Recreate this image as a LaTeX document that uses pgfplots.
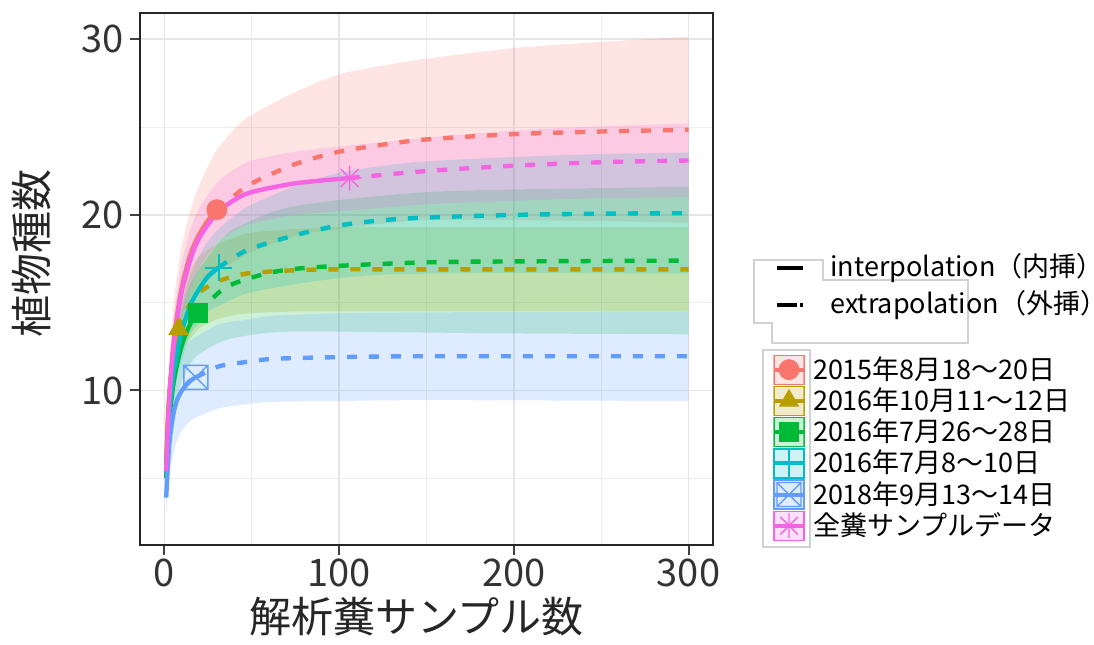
\documentclass[border=0pt]{standalone}
\usepackage{fontspec}
\setmainfont{Noto Sans CJK JP}
\usepackage{pgfplots}
\usepackage{pgfplotstable}
\pgfplotsset{compat=1.18}
\usepgfplotslibrary{fillbetween}

\definecolor{cRed}{HTML}{F8766D}
\definecolor{cOli}{HTML}{B79F00}
\definecolor{cGrn}{HTML}{00BA38}
\definecolor{cTea}{HTML}{00BFC4}
\definecolor{cBlu}{HTML}{619CFF}
\definecolor{cMag}{HTML}{F564E3}

\pgfdeclareplotmark{boxx}{%
  \pgfpathrectangle{\pgfpoint{-\pgfplotmarksize}{-\pgfplotmarksize}}{\pgfpoint{2\pgfplotmarksize}{2\pgfplotmarksize}}%
  \pgfpathmoveto{\pgfpoint{-\pgfplotmarksize}{-\pgfplotmarksize}}\pgfpathlineto{\pgfpoint{\pgfplotmarksize}{\pgfplotmarksize}}%
  \pgfpathmoveto{\pgfpoint{-\pgfplotmarksize}{\pgfplotmarksize}}\pgfpathlineto{\pgfpoint{\pgfplotmarksize}{-\pgfplotmarksize}}%
  \pgfusepathqstroke}
\pgfdeclareplotmark{star8}{%
  \pgfpathmoveto{\pgfpoint{-\pgfplotmarksize}{0pt}}\pgfpathlineto{\pgfpoint{\pgfplotmarksize}{0pt}}%
  \pgfpathmoveto{\pgfpoint{0pt}{-\pgfplotmarksize}}\pgfpathlineto{\pgfpoint{0pt}{\pgfplotmarksize}}%
  \pgfpathmoveto{\pgfpoint{-.7071\pgfplotmarksize}{-.7071\pgfplotmarksize}}\pgfpathlineto{\pgfpoint{.7071\pgfplotmarksize}{.7071\pgfplotmarksize}}%
  \pgfpathmoveto{\pgfpoint{-.7071\pgfplotmarksize}{.7071\pgfplotmarksize}}\pgfpathlineto{\pgfpoint{.7071\pgfplotmarksize}{-.7071\pgfplotmarksize}}%
  \pgfusepathqstroke}

\pgfplotsset{
  keybox/.style={legend image code/.code={
    \fill[#1, fill opacity=0.2] (0pt,-7.25pt) rectangle (15pt,7.25pt);
    \draw[#1, draw opacity=0.6, line width=0.6pt] (0pt,-7.25pt) rectangle (15pt,7.25pt);
    \draw[#1, line width=2pt, solid] (0pt,0pt) -- (15pt,0pt);
    \draw plot coordinates {(7.5pt,0pt)};
  }},
  sline/.style={line width=2.2pt, smooth, forget plot},
  dline/.style={line width=2.2pt, smooth, forget plot, dash pattern=on 5pt off 6pt},
}

% x = samples, y = estimate, lo/hi = confidence band
\pgfplotstableread{
x y lo hi
1 5.5 4.2 6.8
2 8.2 6.5 9.9
3 10.0 8.0 12.0
5 12.5 10.3 14.7
7 14.1 11.8 16.4
10 15.9 13.5 18.3
15 17.8 15.3 20.3
20 18.9 16.1 21.7
25 19.7 16.6 22.8
30 20.3 16.9 23.7
40 21.1 17.3 24.9
50 21.8 17.9 25.7
75 22.9 18.8 27.0
100 23.6 19.2 28.0
125 24.0 19.5 28.5
150 24.3 19.7 28.9
200 24.6 19.7 29.5
250 24.75 19.65 29.85
300 24.85 19.55 30.15
}\tRed
\pgfplotstableread{
x y lo hi
1 5.8 4.8 6.8
2 8.5 7.3 9.7
3 10.0 8.7 11.3
4 11.0 9.6 12.4
6 12.5 10.9 14.1
8 13.5 11.7 15.3
12 14.5 12.6 16.4
16 15.1 13.1 17.1
20 15.6 13.55 17.65
30 16.2 14.05 18.35
40 16.5 14.3 18.7
50 16.7 14.4 19.0
75 16.85 14.5 19.2
100 16.9 14.5 19.3
150 16.9 14.5 19.3
300 16.9 14.5 19.3
}\tOli
\pgfplotstableread{
x y lo hi
1 5.0 4.0 6.0
2 7.2 6.0 8.4
3 8.6 7.3 9.9
5 10.3 8.7 11.9
7 11.4 9.6 13.2
10 12.6 10.6 14.6
13 13.4 11.2 15.6
16 14.0 11.7 16.3
19 14.4 12.0 16.8
25 15.0 12.4 17.6
32 15.65 12.75 18.55
40 16.1 13.0 19.2
56 16.6 13.25 19.95
72 16.9 13.35 20.45
100 17.1 13.35 20.85
150 17.3 13.3 21.3
200 17.35 13.25 21.45
300 17.4 13.2 21.6
}\tGrn
\pgfplotstableread{
x y lo hi
1 5.3 4.3 6.3
2 7.6 6.5 8.7
3 9.0 7.8 10.2
5 10.8 9.5 12.1
7 12.0 10.6 13.4
10 13.4 11.8 15.0
15 14.9 13.2 16.6
20 15.8 13.9 17.7
25 16.5 14.5 18.5
31 17.0 14.8 19.2
40 17.6 15.25 19.95
50 18.1 15.6 20.6
75 18.85 16.05 21.65
100 19.4 16.4 22.4
125 19.7 16.6 22.8
150 19.85 16.65 23.05
200 20.0 16.7 23.3
250 20.07 16.67 23.47
300 20.1 16.65 23.55
}\tTea
\pgfplotstableread{
x y lo hi
1 3.9 3.0 4.8
2 5.8 4.3 7.3
3 7.2 5.3 9.1
5 8.6 6.3 10.9
7 9.4 7.1 11.7
10 10.0 7.7 12.3
14 10.5 8.2 12.8
18 10.75 8.45 13.05
25 11.1 8.75 13.45
32 11.4 9.0 13.8
45 11.6 9.2 14.0
62 11.8 9.35 14.25
100 11.9 9.4 14.4
150 11.95 9.45 14.45
300 11.95 9.4 14.5
}\tBlu
\pgfplotstableread{
x y lo hi
1 5.4 4.4 6.4
2 8.1 6.9 9.3
3 9.9 8.6 11.2
5 12.3 10.9 13.7
7 13.9 12.4 15.4
10 15.7 14.1 17.3
15 17.5 15.8 19.2
20 18.7 17.0 20.4
30 20.1 18.4 21.8
40 20.85 19.1 22.6
50 21.3 19.5 23.1
75 21.8 20.0 23.6
106 22.1 20.25 23.95
150 22.5 20.6 24.4
200 22.8 20.8 24.8
250 23.0 20.95 25.05
300 23.1 21.0 25.2
}\tMag

\begin{document}
\begin{tikzpicture}
\begin{axis}[
  scale only axis, width=286.5pt, height=266pt,
  at={(0,0)}, anchor=south west,
  xmin=-14, xmax=314, ymin=1.2, ymax=31.5,
  xtick={0,100,200,300}, ytick={10,20,30},
  minor xtick={50,150,250}, minor ytick={5,15,25},
  grid=both,
  major grid style={color=black!10, line width=0.9pt},
  minor grid style={color=black!7, line width=0.6pt},
  tick align=outside, major tick length=5pt, minor tick length=0pt,
  xtick pos=left, ytick pos=left,
  tick style={color=black!75, line width=1pt},
  axis line style={line width=1pt, color=black!85},
  tick label style={font=\fontsize{19}{19}\selectfont, color=black!80},
  yticklabel style={xshift=0.5pt},
  xticklabel style={yshift=1.5pt},
  /pgf/number format/assume math mode=true,
  xlabel={解析糞サンプル数}, ylabel={植物種数},
  every axis x label/.style={at={(axis description cs:0.4825,0)}, yshift=-36pt, anchor=center,
    font=\fontsize{21}{21}\selectfont, color=black!85},
  every axis y label/.style={at={(axis description cs:0,0.548)}, xshift=-54pt, rotate=90, anchor=center,
    font=\fontsize{21}{21}\selectfont, color=black!85},
  legend style={at={(rel axis cs:1.103,0.358)}, anchor=north west, draw=none, fill=none,
    inner sep=0pt, outer sep=0pt, row sep=0.4pt, /tikz/column sep=3.5pt,
    font=\fontsize{13.5}{13.5}\selectfont, nodes={inner sep=0pt}},
  legend cell align=left,
]
% observed points
\addplot[only marks, mark=*, mark size=5pt, color=cRed, keybox=cRed] coordinates {(30,20.3)};
\addlegendentry{2015年8月18〜20日}
\addplot[only marks, mark=triangle*, mark size=5.5pt, color=cOli, keybox=cOli] coordinates {(8,13.5)};
\addlegendentry{2016年10月11〜12日}
\addplot[only marks, mark=square*, mark size=4.75pt, color=cGrn, keybox=cGrn] coordinates {(19,14.4)};
\addlegendentry{2016年7月26〜28日}
\addplot[only marks, mark=+, mark size=6.75pt, line width=1pt, color=cTea, keybox=cTea] coordinates {(31,17.0)};
\addlegendentry{2016年7月8〜10日}
\addplot[only marks, mark=boxx, mark size=6pt, line width=0.7pt, color=cBlu, keybox=cBlu] coordinates {(18,10.75)};
\addlegendentry{2018年9月13〜14日}
\addplot[only marks, mark=star8, mark size=6.25pt, line width=0.7pt, color=cMag, keybox=cMag] coordinates {(106,22.1)};
\addlegendentry{全糞サンプルデータ}

% interpolation / extrapolation lines
\addplot[cRed, sline, restrict x to domain=1:30] table[x=x,y=y]{\tRed};
\addplot[cRed, dline, restrict x to domain=30:300] table[x=x,y=y]{\tRed};
\addplot[cOli, sline, restrict x to domain=1:8] table[x=x,y=y]{\tOli};
\addplot[cOli, dline, restrict x to domain=8:300] table[x=x,y=y]{\tOli};
\addplot[cGrn, sline, restrict x to domain=1:19] table[x=x,y=y]{\tGrn};
\addplot[cGrn, dline, restrict x to domain=19:300] table[x=x,y=y]{\tGrn};
\addplot[cTea, sline, restrict x to domain=1:31] table[x=x,y=y]{\tTea};
\addplot[cTea, dline, restrict x to domain=31:300] table[x=x,y=y]{\tTea};
\addplot[cBlu, sline, restrict x to domain=1:18] table[x=x,y=y]{\tBlu};
\addplot[cBlu, dline, restrict x to domain=18:300] table[x=x,y=y]{\tBlu};
\addplot[cMag, sline, restrict x to domain=1:106] table[x=x,y=y]{\tMag};
\addplot[cMag, dline, restrict x to domain=106:300] table[x=x,y=y]{\tMag};

% confidence bands
\addplot[draw=none, smooth, name path=rH, forget plot] table[x=x,y=hi]{\tRed};
\addplot[draw=none, smooth, name path=rL, forget plot] table[x=x,y=lo]{\tRed};
\addplot[cRed, fill opacity=0.2, draw=none, forget plot] fill between[of=rH and rL];
\addplot[draw=none, smooth, name path=oH, forget plot] table[x=x,y=hi]{\tOli};
\addplot[draw=none, smooth, name path=oL, forget plot] table[x=x,y=lo]{\tOli};
\addplot[cOli, fill opacity=0.2, draw=none, forget plot] fill between[of=oH and oL];
\addplot[draw=none, smooth, name path=gH, forget plot] table[x=x,y=hi]{\tGrn};
\addplot[draw=none, smooth, name path=gL, forget plot] table[x=x,y=lo]{\tGrn};
\addplot[cGrn, fill opacity=0.2, draw=none, forget plot] fill between[of=gH and gL];
\addplot[draw=none, smooth, name path=tH, forget plot] table[x=x,y=hi]{\tTea};
\addplot[draw=none, smooth, name path=tL, forget plot] table[x=x,y=lo]{\tTea};
\addplot[cTea, fill opacity=0.2, draw=none, forget plot] fill between[of=tH and tL];
\addplot[draw=none, smooth, name path=bH, forget plot] table[x=x,y=hi]{\tBlu};
\addplot[draw=none, smooth, name path=bL, forget plot] table[x=x,y=lo]{\tBlu};
\addplot[cBlu, fill opacity=0.2, draw=none, forget plot] fill between[of=bH and bL];
\addplot[draw=none, smooth, name path=mH, forget plot] table[x=x,y=hi]{\tMag};
\addplot[draw=none, smooth, name path=mL, forget plot] table[x=x,y=lo]{\tMag};
\addplot[cMag, fill opacity=0.2, draw=none, forget plot] fill between[of=mH and mL];
\end{axis}

% legend for line types
\draw[black!18, line width=0.6pt, fill=white]
  (307pt,142.5pt) -- (341.5pt,142.5pt) -- (341.5pt,132.5pt) -- (414pt,132.5pt)
  -- (414pt,101pt) -- (316pt,101pt) -- (316pt,111pt) -- (307pt,111pt) -- cycle;
\draw[black, line width=2pt] (318.5pt,138.5pt) -- (331.5pt,138.5pt);
\draw[black, line width=2pt] (318.5pt,120pt) -- (328.5pt,120pt);
\draw[black, line width=2pt] (330.2pt,120pt) -- (331.5pt,120pt);
\node[anchor=west, inner sep=0pt, font=\fontsize{13.5}{13.5}\selectfont] at (345pt,138.5pt) {interpolation（内挿）};
\node[anchor=west, inner sep=0pt, font=\fontsize{13.5}{13.5}\selectfont] at (345pt,120pt) {extrapolation（外挿）};
% frame of the key column of the group legend
\draw[black!18, line width=0.6pt] (311.5pt,-1pt) rectangle (335pt,97.5pt);
\pgfresetboundingbox
\path[use as bounding box] (-70pt,-49.5pt) rectangle (477pt,272.5pt);
\end{tikzpicture}
\end{document}
